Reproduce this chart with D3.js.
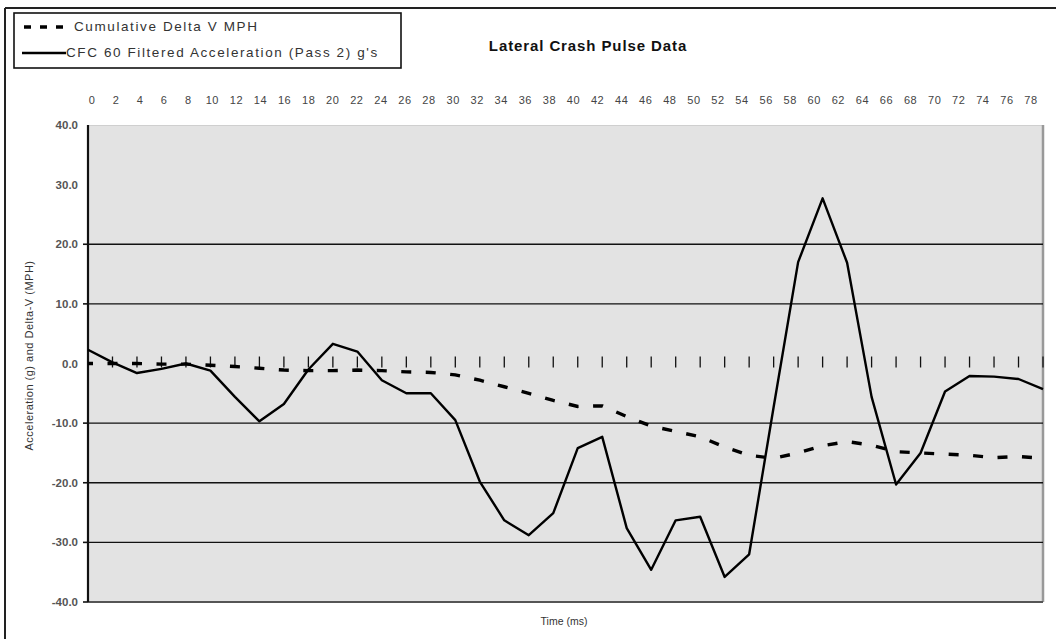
<!DOCTYPE html>
<html><head><meta charset="utf-8">
<script src="https://cdn.jsdelivr.net/npm/d3@7"></script>
<style>body{margin:0;background:#fff}svg{display:block;font-family:"Liberation Sans",Arial,sans-serif}</style>
</head><body><svg id="c" width="1056" height="639"></svg>
<script>
// ---- data ----
const times = [0,2,4,6,8,10,12,14,16,18,20,22,24,26,28,30,32,34,36,38,40,42,44,46,48,50,52,54,56,58,60,62,64,66,68,70,72,74,76,78];
const accel = [2.3,0.2,-1.6,-0.9,0.0,-1.2,-5.6,-9.7,-6.8,-1.0,3.3,2.0,-2.8,-5.0,-5.0,-9.5,-19.8,-26.3,-28.8,-25.1,-14.2,-12.3,-27.6,-34.6,-26.3,-25.7,-35.8,-32.0,-7.3,17.0,27.7,16.9,-5.6,-20.3,-15.0,-4.7,-2.1,-2.2,-2.6,-4.3];
const deltaV = [0.0,0.0,0.0,-0.1,-0.1,-0.3,-0.5,-0.8,-1.1,-1.2,-1.2,-1.1,-1.2,-1.4,-1.5,-1.9,-2.8,-3.9,-5.0,-6.2,-7.2,-7.1,-8.9,-10.5,-11.4,-12.3,-14.0,-15.4,-15.9,-15.0,-13.8,-13.1,-13.7,-14.8,-15.0,-15.2,-15.4,-15.8,-15.6,-15.9];
const yTickValues = [40,30,20,10,0,-10,-20,-30,-40];
const gridValues = [20,10,-10,-20,-30];
const yOuterTicks = [20,10,-10,-20,-30,-40];
const seriesNames = ["Cumulative Delta V MPH","CFC 60 Filtered Acceleration (Pass 2) g's"];
const title = "Lateral Crash Pulse Data";
const xTitle = "Time (ms)";
const yTitle = "Acceleration (g) and Delta-V (MPH)";

// ---- layout ----
const L=88,R=1043,T=125,B=602;
const svg = d3.select("#c");
const x = d3.scaleLinear().domain([0,78]).range([L,R]);
const xLab = d3.scaleLinear().domain([0,78]).range([L+4,R-12]);
const y = d3.scaleLinear().domain([-40,40]).range([B,T]);

// outer frame (cropped: top & left visible)
svg.append("line").attr("x1",5).attr("x2",1056).attr("y1",8).attr("y2",8).attr("stroke","#222").attr("stroke-width",2);
svg.append("line").attr("x1",5).attr("x2",5).attr("y1",8).attr("y2",639).attr("stroke","#222").attr("stroke-width",2);

// plot background
svg.append("rect").attr("x",L).attr("y",T).attr("width",R-L).attr("height",B-T).attr("fill","#e3e3e3");
svg.append("line").attr("x1",L).attr("x2",R).attr("y1",T+0.5).attr("y2",T+0.5).attr("stroke","#cfcfcf").attr("stroke-width",1);
svg.append("line").attr("x1",R).attr("x2",R).attr("y1",T).attr("y2",B).attr("stroke","#999").attr("stroke-width",2.5);
svg.append("line").attr("x1",L).attr("x2",R).attr("y1",B).attr("y2",B).attr("stroke","#555").attr("stroke-width",2);

// gridlines
svg.append("g").selectAll("line").data(gridValues).join("line")
  .attr("x1",L).attr("x2",R).attr("y1",d=>y(d)).attr("y2",d=>y(d))
  .attr("stroke","#111").attr("stroke-width",1.4);

// y axis
svg.append("line").attr("x1",L).attr("x2",L).attr("y1",T).attr("y2",B).attr("stroke","#111").attr("stroke-width",2.2);
svg.append("g").selectAll("line").data(yOuterTicks).join("line")
  .attr("x1",L-5).attr("x2",L).attr("y1",d=>y(d)).attr("y2",d=>y(d)).attr("stroke","#111").attr("stroke-width",1.6);
svg.append("g").selectAll("text").data(yTickValues).join("text")
  .attr("x",L-10).attr("y",d=>y(d)).attr("dy","0.35em").attr("text-anchor","end")
  .attr("font-size",11.5).attr("font-weight","bold").attr("fill","#555")
  .text(d=>d.toFixed(1));

// x ticks crossing at y=0
svg.append("g").selectAll("line").data(times).join("line")
  .attr("x1",d=>x(d)).attr("x2",d=>x(d)).attr("y1",y(0)-7).attr("y2",y(0)+4)
  .attr("stroke","#111").attr("stroke-width",1.3);

// x labels on top
svg.append("g").selectAll("text").data(times).join("text")
  .attr("x",d=>xLab(d)).attr("y",104).attr("text-anchor","middle")
  .attr("font-size",11).attr("letter-spacing",0.6).attr("fill","#444").text(d=>d);

// series
const pts = (vals)=>times.map((t,i)=>[t,vals[i]]);
const line = d3.line().x(d=>x(d[0])).y(d=>y(d[1]));
svg.append("path").attr("d",line(pts(deltaV))).attr("fill","none").attr("stroke","#000")
  .attr("stroke-width",3.4).attr("stroke-dasharray","10,14.5").attr("stroke-dashoffset",5);
svg.append("path").attr("d",line(pts(accel))).attr("fill","none").attr("stroke","#000")
  .attr("stroke-width",2.4).attr("stroke-linejoin","round");

// titles
svg.append("text").attr("x",588).attr("y",51).attr("text-anchor","middle").attr("font-size",15)
  .attr("letter-spacing",0.9).attr("font-weight","bold").attr("fill","#111").text(title);
svg.append("text").attr("x",564).attr("y",625).attr("text-anchor","middle").attr("font-size",10.5)
  .attr("fill","#333").text(xTitle);
svg.append("text").attr("transform",`translate(33,${(T+B)/2 - 8}) rotate(-90)`).attr("text-anchor","middle")
  .attr("font-size",11).attr("letter-spacing",0.5).attr("fill","#333").text(yTitle);

// legend
const lg = svg.append("g");
lg.append("rect").attr("x",14).attr("y",13).attr("width",387).attr("height",55).attr("fill","#fff").attr("stroke","#111").attr("stroke-width",1.6);
lg.append("line").attr("x1",24).attr("x2",64).attr("y1",27).attr("y2",27).attr("stroke","#000").attr("stroke-width",3.5).attr("stroke-dasharray","7,9");
lg.append("line").attr("x1",22).attr("x2",66).attr("y1",53).attr("y2",53).attr("stroke","#000").attr("stroke-width",2.4);
lg.selectAll("text").data(seriesNames).join("text")
  .attr("x",(d,i)=>i===0?74:66).attr("y",(d,i)=>i===0?31:57).attr("font-size",13.5)
  .attr("letter-spacing",1.6).attr("fill","#333").text(d=>d);
</script></body></html>
